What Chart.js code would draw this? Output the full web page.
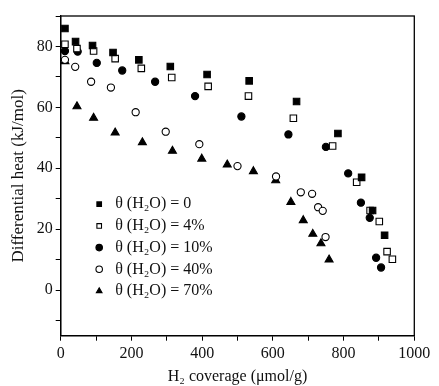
<!DOCTYPE html>
<html>
<head>
<meta charset="utf-8">
<script src="https://cdn.jsdelivr.net/npm/chart.js@4.4.1/dist/chart.umd.min.js"></script>
<style>
  html, body { margin: 0; padding: 0; background: #fff; }
  #wrap { width: 439px; height: 386px; }
</style>
</head>
<body>
<div id="wrap"><canvas id="c" width="439" height="386"></canvas></div>
<script>
// ---- data ----
const seriesNames = ['θ (H₂O) = 0', 'θ (H₂O) = 4%', 'θ (H₂O) = 10%', 'θ (H₂O) = 40%', 'θ (H₂O) = 70%'];

const h0x = [12, 42, 90, 148, 221, 310, 414, 533, 667, 784, 851, 882, 916];
const h0y = [85.9, 81.6, 80.3, 78.0, 75.6, 73.4, 70.8, 68.7, 61.9, 51.4, 37.0, 26.1, 18.0];

const h4x = [12, 46, 93, 154, 228, 314, 417, 531, 658, 769, 837, 875, 901, 923, 938];
const h4y = [80.7, 79.3, 78.5, 76.0, 72.8, 69.8, 66.9, 63.7, 56.4, 47.3, 35.4, 26.1, 22.5, 12.6, 10.1];

const h10x = [12, 48, 102, 174, 267, 380, 511, 644, 750, 813, 849, 874, 892, 906];
const h10y = [78.5, 78.3, 74.6, 72.1, 68.4, 63.7, 57.0, 51.1, 47.0, 38.3, 28.7, 23.7, 10.6, 7.4];

const h40x = [12, 41, 86, 142, 212, 297, 392, 500, 609, 679, 711, 728, 741, 749];
const h40y = [75.6, 73.3, 68.4, 66.5, 58.4, 52.0, 47.9, 40.7, 37.3, 32.1, 31.6, 27.2, 26.0, 17.4];

const h70x = [12, 46, 93, 154, 231, 316, 399, 471, 545, 608, 651, 686, 713, 736, 759];
const h70y = [75.1, 60.3, 56.5, 51.7, 48.5, 45.7, 43.1, 41.2, 39.0, 36.0, 28.9, 22.9, 18.4, 15.3, 10.0];

const xTickValues = [0, 100, 200, 300, 400, 500, 600, 700, 800, 900, 1000];
const xTickLabels = ['0', '', '200', '', '400', '', '600', '', '800', '', '1000'];
const yTickValues = [-10, 0, 10, 20, 30, 40, 50, 60, 70, 80, 90];
const yTickLabels = ['', '0', '', '20', '', '40', '', '60', '', '80', ''];

const xTitle = 'H₂ coverage (μmol/g)';
const yTitle = 'Differential heat (kJ/mol)';

// ---- build ----
function pts(xs, ys) { return xs.map((x, i) => ({ x: x, y: ys[i] })); }

const FONT = "'Liberation Serif', 'Times New Roman', 'DejaVu Serif', serif";
const INK = '#111';

const styles = [
  { pointStyle: 'rect', fill: '#000', r: 4.6 },
  { pointStyle: 'rect', fill: '#fff', r: 4.6 },
  { pointStyle: 'circle', fill: '#000', r: 3.6 },
  { pointStyle: 'circle', fill: '#fff', r: 3.6 },
  { pointStyle: 'triangle', fill: '#000', r: 4.6 }
];
const allX = [h0x, h4x, h10x, h40x, h70x];
const allY = [h0y, h4y, h10y, h40y, h70y];

const datasets = seriesNames.map((name, i) => ({
  label: name,
  data: pts(allX[i], allY[i]),
  pointStyle: styles[i].pointStyle,
  pointRadius: styles[i].r,
  pointHoverRadius: styles[i].r,
  backgroundColor: styles[i].fill,
  borderColor: '#000',
  borderWidth: 1.1,
  showLine: false
}));

const frame = {
  id: 'frame',
  beforeDatasetsDraw(chart) {
    const a = chart.chartArea, ctx = chart.ctx;
    ctx.save();
    ctx.strokeStyle = '#000';
    ctx.lineWidth = 1.3;
    ctx.strokeRect(a.left, a.top, a.right - a.left, a.bottom - a.top);
    ctx.restore();
  },
  beforeDraw(chart) {
    const lg = chart.legend;
    if (lg) { lg.left = 85.5; lg.top = 190.5; }
  }
};

new Chart(document.getElementById('c'), {
  type: 'scatter',
  data: { datasets },
  plugins: [frame],
  options: {
    responsive: false,
    animation: false,
    layout: { padding: { top: 16, right: 24.7, left: 0, bottom: 0 } },
    plugins: {
      tooltip: { enabled: false },
      legend: {
        position: 'chartArea',
        align: 'start',
        labels: {
          usePointStyle: true,
          boxWidth: 18,
          boxHeight: 4.6,
          padding: 5.7,
          color: INK,
          font: { family: FONT, size: 16 }
        }
      }
    },
    scales: {
      x: {
        type: 'linear',
        min: 0, max: 1000,
        afterBuildTicks: s => { s.ticks = xTickValues.map(v => ({ value: v })); },
        afterFit: s => { s.height = 50.3; },
        ticks: {
          autoSkip: false,
          maxRotation: 0,
          padding: 3,
          color: INK,
          font: { family: FONT, size: 16 },
          callback: (v) => { const k = xTickValues.indexOf(v); return k >= 0 ? xTickLabels[k] : ''; }
        },
        grid: { drawOnChartArea: false, drawTicks: true, tickLength: 5, tickColor: '#000', tickWidth: 1 },
        border: { display: true, color: '#000', width: 1.3 },
        title: { display: true, text: xTitle, color: INK, font: { family: FONT, size: 16 }, padding: { top: 3, bottom: 0 } }
      },
      y: {
        type: 'linear',
        min: -15, max: 90,
        afterBuildTicks: s => { s.ticks = yTickValues.map(v => ({ value: v })); },
        afterFit: s => { s.width = 60.7; },
        ticks: {
          autoSkip: false,
          padding: 3,
          color: INK,
          font: { family: FONT, size: 16 },
          callback: (v) => { const k = yTickValues.indexOf(v); return k >= 0 ? yTickLabels[k] : ''; }
        },
        grid: { drawOnChartArea: false, drawTicks: true, tickLength: 5, tickColor: '#000', tickWidth: 1 },
        border: { display: true, color: '#000', width: 1.3 },
        title: { display: true, text: yTitle, color: INK, font: { family: FONT, size: 17 }, padding: { top: 8, bottom: 0 } }
      }
    }
  }
});
</script>
</body>
</html>
